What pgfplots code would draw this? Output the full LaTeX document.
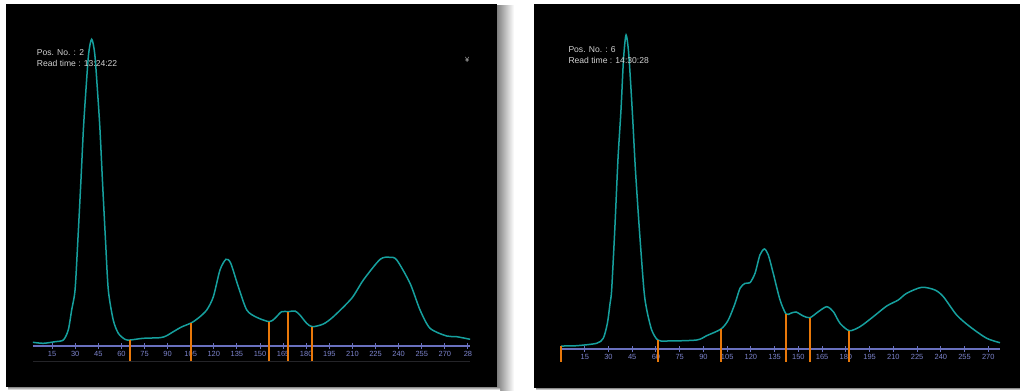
\documentclass[border=0pt]{standalone}
\usepackage{pgfplots}
\pgfplotsset{compat=1.18}
\usepackage{fontspec}
\setmainfont{Liberation Sans}
\definecolor{curve}{RGB}{22,160,158}
\definecolor{cut}{RGB}{232,120,10}
\definecolor{axiscol}{RGB}{105,112,190}
\definecolor{tickcol}{RGB}{125,132,205}
\definecolor{infotext}{RGB}{210,210,210}
\definecolor{darkline}{RGB}{36,36,40}
\pgfplotsset{
  densit/.style={
    scale only axis,
    axis x line=middle,
    axis y line=none,
    axis line style={-, color=axiscol, line width=1.4bp},
    tick align=center,
    major tick length=6bp,
    every tick/.style={color=axiscol, line width=1bp},
    ytick=\empty,
    /pgf/number format/assume math mode=true,
    xticklabel style={font=\fontsize{7.5}{8}\selectfont, text=tickcol, yshift=1bp},
    clip=false,
  },
  trace/.style={color=curve, line width=1.5bp, smooth, tension=0.45},
  cutline/.style={color=cut, line width=1.9bp},
}
\begin{document}
\begin{tikzpicture}[x=1bp,y=1bp]
\fill[white] (0,0) rectangle (1020,390);
% shadows
\shade[left color=black!50, right color=white] (497,0) rectangle (514,384);
\shade[top color=black!45, bottom color=white] (8,0) rectangle (500,3);
\shade[top color=black!45, bottom color=white] (536,0) rectangle (1020,2);
% panels
\fill[black] (6,3) rectangle (497,386);
\fill[black] (534,2) rectangle (1020,386);

% ---------------- left panel ----------------
\begin{axis}[densit,
  at={(32.85bp,29bp)}, anchor=south west,
  width=437.4bp, height=357bp,
  xmin=2.5, xmax=286.5, ymin=-15, ymax=342,
  xtick={15,30,...,285},
  xticklabels={15,30,45,60,75,90,105,120,135,150,165,180,195,210,225,240,255,270,28},
]
\draw[darkline, line width=0.8bp] (rel axis cs:0,0) -- (rel axis cs:1,0);
\addplot[trace] coordinates {
(2.5,3.7) (9.3,2.7) (16.9,4.3) (22.3,6) (25.5,16) (27.7,36) (29.9,56)
(31.7,105) (33.7,165) (35.3,216) (36.7,250) (38.7,292) (40.7,306.7)
(42.7,292) (44.7,250) (46.1,216) (47.7,165) (49.7,105) (51.5,56)
(54.7,26) (58,12.7) (62.3,6.7) (65.6,6) (74.2,7.7) (85,8.3) (89,10)
(93.7,14.3) (99,19) (105.2,23) (110,28) (115.4,36) (119.7,49.3) (124,76)
(127.9,86.7) (131,82.7) (135.9,59.3) (141.4,36) (147.8,28.7) (156,24.3)
(159.7,27.7) (164,34.3) (168.4,34.3) (172.7,35) (175.9,31) (180.3,22.7)
(184,19.3) (191.1,22) (197.6,29.3) (209.5,47.7) (217.1,66) (228,86.7)
(234.4,88.7) (238.8,86) (247.4,62.7) (253.9,36) (260.4,17.7) (271.2,10)
(277.7,9.3) (286.4,6.7)
};
\addplot[cutline] coordinates {(65.6,-15) (65.6,6)};
\addplot[cutline] coordinates {(105.2,-15) (105.2,23)};
\addplot[cutline] coordinates {(156,-15) (156,24.3)};
\addplot[cutline] coordinates {(168,-15) (168,34.3)};
\addplot[cutline] coordinates {(184,-15) (184,19.3)};
\end{axis}

% ---------------- right panel ----------------
\begin{axis}[densit,
  at={(561bp,28.5bp)}, anchor=south west,
  width=439bp, height=357.5bp,
  xmin=0, xmax=277.4, ymin=-12.5, ymax=345,
  xtick={15,30,...,270},
]
\addplot[trace] coordinates {
(0,3) (9.9,3.3) (22.5,5.7) (26.7,10.7) (29.3,25.7) (31,45.7) (32,59)
(34,120) (36,190) (37.9,239) (39.5,290) (41.1,314) (42.8,295) (45,239)
(47,180) (49.5,120) (52.4,59) (54.2,39) (57.3,19) (61.1,9) (66.8,8)
(85.7,9) (92,13.3) (101.1,20) (105.7,29) (110,45.7) (113.1,60.7)
(116.3,65.7) (119.4,66.3) (122.6,75.7) (125.7,94) (128.5,100) (131,94)
(134.1,75.7) (138.4,49) (142.2,35) (145.1,35.7) (148.5,37) (153.1,33)
(157.3,31.3) (162.6,37.3) (167.9,42.3) (172.1,37.3) (176.3,25.7)
(182.2,18.3) (188.9,22.3) (197.3,32.3) (205.8,43) (213.1,49) (218.4,55.7)
(227.9,61.7) (236.3,59) (241.6,52.3) (250,34) (258.4,22.3) (269,10.7)
(277.4,6.3)
};
\addplot[cutline] coordinates {(0,-12.5) (0,3)};
\addplot[cutline] coordinates {(61.1,-12.5) (61.1,9)};
\addplot[cutline] coordinates {(101.1,-12.5) (101.1,20)};
\addplot[cutline] coordinates {(142.2,-12.5) (142.2,35)};
\addplot[cutline] coordinates {(157.3,-12.5) (157.3,31.3)};
\addplot[cutline] coordinates {(182.2,-12.5) (182.2,18.3)};
\end{axis}

% info texts
\begin{scope}[every node/.style={anchor=west, inner sep=0pt, text=infotext, font=\fontsize{8.6}{10}\selectfont}]
\node at (36.7,337.3) {Pos. No. : 2};
\node at (36.7,326.7) {Read time : 13:24:22};
\node at (568.3,340.7) {Pos. No. : 6};
\node at (568.3,330) {Read time : 14:30:28};
\node[font=\fontsize{7.5}{8}\selectfont, text=black!30] at (465,330) {¥};
\end{scope}

\pgfresetboundingbox
\path[use as bounding box] (0,0) rectangle (1020,390);
\end{tikzpicture}
\end{document}
